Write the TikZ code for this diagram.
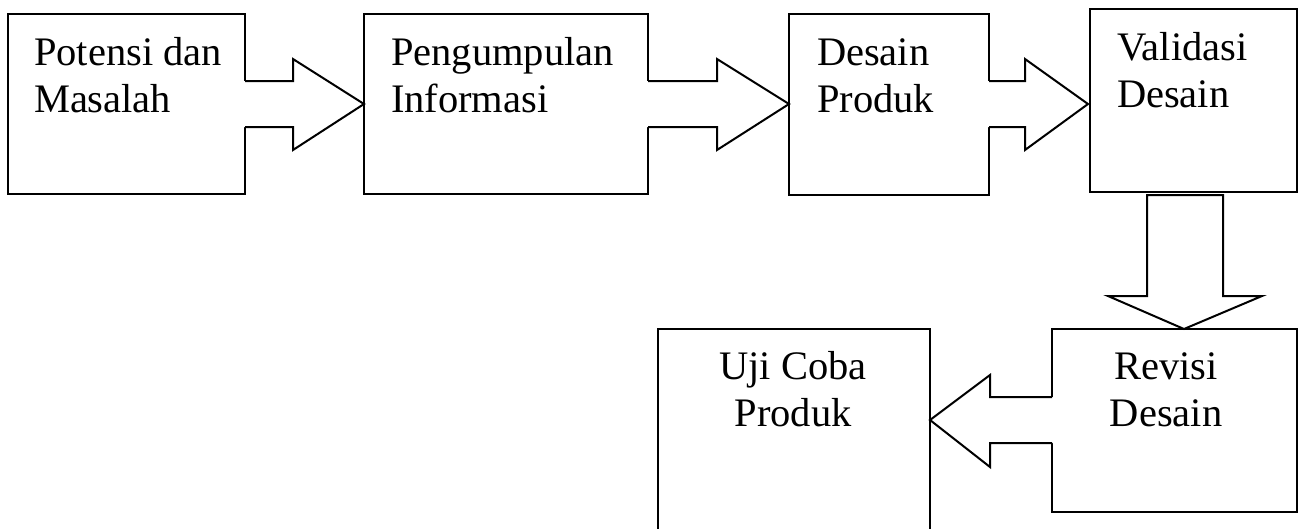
\documentclass[tikz,border=0pt]{standalone}
\usepackage{fontspec}
\setmainfont{Liberation Serif}
\usetikzlibrary{calc}
\tikzset{
  box/.style={draw, line width=2pt, rectangle, inner sep=0pt, outer sep=0pt},
  lbl/.style={inner sep=0pt, outer sep=0pt, font=\fontsize{40.5}{47}\selectfont},
  blk/.style={draw, line width=2pt, line join=miter},
  blkfill/.style={fill=white}
}
\begin{document}
\begin{tikzpicture}[x=1pt,y=-1pt]
\useasboundingbox (0,0) rectangle (1298,528);
% boxes
\node[box, minimum width=237pt, minimum height=180pt] (b1) at (126.5,104) {};
\node[box, minimum width=284pt, minimum height=180pt] (b2) at (506,104) {};
\node[box, minimum width=200pt, minimum height=181pt] (b3) at (889,104.5) {};
\node[box, minimum width=207pt, minimum height=183pt] (b4) at (1193.5,100.5) {};
\node[box, minimum width=272pt, minimum height=211pt] (b5) at (794,434.5) {};
\node[box, minimum width=245pt, minimum height=183pt] (b6) at (1174.5,420.5) {};
% labels
\node[lbl, anchor=base west] (t1) at (34,65) {\begin{tabular}[t]{@{}l@{}}Potensi dan\\Masalah\end{tabular}};
\node[lbl, anchor=base west] (t2) at (391,65) {\begin{tabular}[t]{@{}l@{}}Pengumpulan\\Informasi\end{tabular}};
\node[lbl, anchor=base west] (t3) at (817,65) {\begin{tabular}[t]{@{}l@{}}Desain\\Produk\end{tabular}};
\node[lbl, anchor=base west] (t4) at (1117,60) {\begin{tabular}[t]{@{}l@{}}Validasi\\Desain\end{tabular}};
\node[lbl, anchor=base] (t5) at (793,379) {\begin{tabular}[t]{@{}c@{}}Uji Coba\\Produk\end{tabular}};
\node[lbl, anchor=base] (t6) at (1166,379) {\begin{tabular}[t]{@{}c@{}}Revisi\\Desain\end{tabular}};
% block arrow 1: b1 -> b2
\fill[blkfill] ($(b1.east|-0,81)+(-3,0)$) -- (293,81) -- (293,59) -- (b2.west|-0,104) -- (293,150) -- (293,127) -- ($(b1.east|-0,127)+(-3,0)$) -- cycle;
\draw[blk] (b1.east|-0,81) -- (293,81) -- (293,59) -- (b2.west|-0,104) -- (293,150) -- (293,127) -- (b1.east|-0,127);
% block arrow 2: b2 -> b3
\fill[blkfill] ($(b2.east|-0,81)+(-3,0)$) -- (717,81) -- (717,59) -- (b3.west|-0,104) -- (717,150) -- (717,127) -- ($(b2.east|-0,127)+(-3,0)$) -- cycle;
\draw[blk] (b2.east|-0,81) -- (717,81) -- (717,59) -- (b3.west|-0,104) -- (717,150) -- (717,127) -- (b2.east|-0,127);
% block arrow 3: b3 -> b4
\fill[blkfill] ($(b3.east|-0,81)+(-3,0)$) -- (1025,81) -- (1025,59) -- ($(b4.west|-0,104)+(-2,0)$) -- (1025,150) -- (1025,127) -- ($(b3.east|-0,127)+(-3,0)$) -- cycle;
\draw[blk] (b3.east|-0,81) -- (1025,81) -- (1025,59) -- ($(b4.west|-0,104)+(-2,0)$) -- (1025,150) -- (1025,127) -- (b3.east|-0,127);
% block arrow 4: b4 -> b6 (down)
\draw[blk, blkfill] ($(b4.south)+(-46.5,3)$) -- (1147,296) -- (1108,296) -- (1184,329) -- (1262,296) -- (1223,296) -- ($(b4.south)+(29.5,3)$) -- cycle;
% block arrow 5: b6 -> b5 (left)
\fill[blkfill] ($(b6.west|-0,397)+(3,0)$) -- (990,397) -- (990,375) -- (b5.east|-0,420) -- (990,467) -- (990,443) -- ($(b6.west|-0,443)+(3,0)$) -- cycle;
\draw[blk] (b6.west|-0,397) -- (990,397) -- (990,375) -- (b5.east|-0,420) -- (990,467) -- (990,443) -- (b6.west|-0,443);
\end{tikzpicture}
\end{document}
